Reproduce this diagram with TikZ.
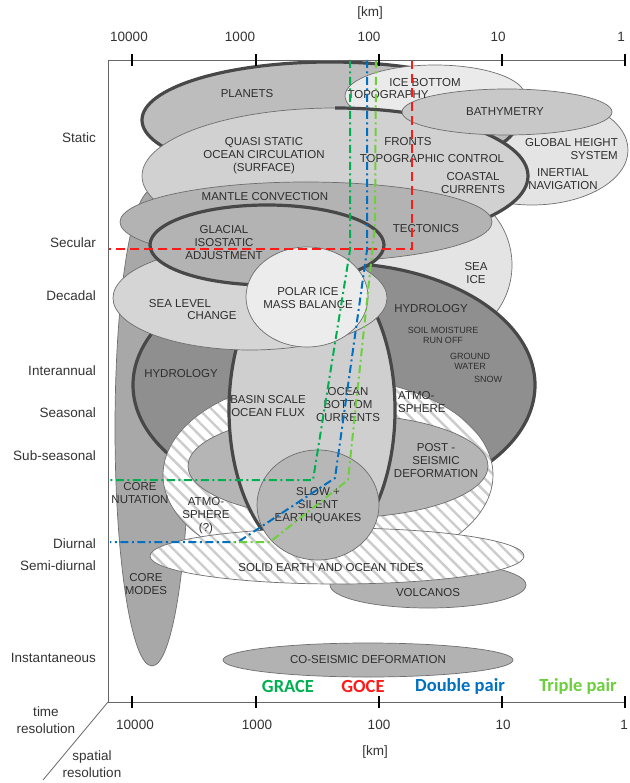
\documentclass[tikz,border=0pt]{standalone}
\usepackage{fontspec}
\setmainfont{Liberation Sans}
\newfontfamily\legendfont{Carlito}
\usepackage{tikz}
\usetikzlibrary{patterns.meta}

\definecolor{rimgray}{HTML}{484848}
\definecolor{edgegray}{HTML}{6E6E6E}
\definecolor{coregray}{HTML}{A8A8A8}
\definecolor{pale}{HTML}{E4E4E4}
\definecolor{palest}{HTML}{EAEAEA}
\definecolor{planetgray}{HTML}{BDBDBD}
\definecolor{oceangray}{HTML}{D1D1D1}
\definecolor{bathgray}{HTML}{C8C8C8}
\definecolor{mantlegray}{HTML}{B3B3B3}
\definecolor{hydrogray}{HTML}{8F8F8F}
\definecolor{basingray}{HTML}{CFCFCF}
\definecolor{sealevelgray}{HTML}{D5D5D5}
\definecolor{polargray}{HTML}{ECECEC}
\definecolor{postgray}{HTML}{B5B5B5}
\definecolor{quakegray}{HTML}{B7B7B7}
\definecolor{volcgray}{HTML}{B2B2B2}
\definecolor{gracegreen}{HTML}{00B050}
\definecolor{gocered}{HTML}{FF1A1A}
\definecolor{doubleblue}{HTML}{0070C0}
\definecolor{triplegreen}{HTML}{6CCF3C}

\tikzset{
  blob/.style={draw=edgegray, line width=0.7pt},
  rim/.style={draw=rimgray, line width=3.2pt},
  hatch/.style={preaction={fill=white},
    pattern={Lines[angle=-45,distance=9pt,line width=2.4pt]}, pattern color=black!20},
  lbl/.style={font=\fontsize{11.5}{13}\selectfont, text=black!82, align=center, inner sep=0pt},
  smalllbl/.style={font=\fontsize{9}{10.5}\selectfont, text=black!82, align=center, inner sep=0pt},
  axislbl/.style={font=\fontsize{13.5}{16.5}\selectfont, text=black!80, inner sep=0pt},
  legend/.style={font=\legendfont\bfseries\fontsize{18.5}{20}\selectfont, inner sep=0pt},
  axline/.style={draw=black!60, line width=0.8pt},
  axtick/.style={draw=black, line width=1.6pt},
  goce/.style={draw=gocered, line width=2pt, dash pattern=on 9pt off 5pt},
  dashdot/.style={line width=2pt, dash pattern=on 8pt off 3.5pt on 2pt off 3.5pt},
}

\begin{document}
\begin{tikzpicture}[x=1pt,y=-1pt]
  \useasboundingbox (0,0) rectangle (629,783);

  % signals, back to front
  \draw[blob, fill=coregray] (152,428) ellipse [x radius=37, y radius=238];
  \draw[blob, fill=pale] (435,265) ellipse [x radius=77, y radius=78];
  \draw[blob, fill=pale] (532,150) ellipse [x radius=96, y radius=55];
  \draw[rim, fill=planetgray] (330,120) ellipse [x radius=188, y radius=58];
  \draw[blob, fill=palest] (435,96) ellipse [x radius=90, y radius=31];
  \draw[blob, fill=oceangray] (335,176) ellipse [x radius=193, y radius=68];
  \begin{scope}
    \clip (335,0) rectangle (629,400);
    \draw[rim] (335,176) ellipse [x radius=193, y radius=68];
  \end{scope}
  \draw[blob, fill=bathgray] (507,112) ellipse [x radius=105, y radius=23];
  \draw[rim, fill=hydrogray] (334,385) ellipse [x radius=201, y radius=122];
  \draw[blob, hatch] (328,475) ellipse [x radius=165, y radius=97];
  \draw[blob, fill=postgray] (338,466) ellipse [x radius=150, y radius=52];
  \draw[rim, fill=basingray] (312,410) ellipse [x radius=83, y radius=150];
  \draw[blob, fill=mantlegray] (306,222) ellipse [x radius=186, y radius=40];
  \draw[blob, fill=sealevelgray] (250,298) ellipse [x radius=137, y radius=52];
  \draw[rim, fill=mantlegray] (267,245) ellipse [x radius=117, y radius=40];
  \draw[blob, fill=polargray] (307,297) ellipse [x radius=61, y radius=50];
  \draw[blob, fill=volcgray] (428,585) ellipse [x radius=98, y radius=23];
  \draw[blob, hatch] (337,556) ellipse [x radius=187, y radius=28];
  \draw[blob, fill=quakegray] (318,505) ellipse [x radius=61, y radius=55];
  \draw[blob, fill=volcgray] (368,660) ellipse [x radius=145, y radius=17];

  % labels of the signals
  \node[lbl] (planets) at (247,94) {PLANETS};
  \node[lbl] (icebottom) at (425,83) {ICE BOTTOM};
  \node[lbl] (icetopo) at (388,95) {TOPOGRAPHY};
  \node[lbl] (bathy) at (505,112) {BATHYMETRY};
  \node[lbl] (quasi) at (264,156) {QUASI STATIC\\OCEAN CIRCULATION\\(SURFACE)};
  \node[lbl] (fronts) at (408,142) {FRONTS};
  \node[lbl] (topoctrl) at (432,159) {TOPOGRAPHIC CONTROL};
  \node[lbl] (coastal) at (473,183) {COASTAL\\CURRENTS};
  \node[lbl, align=right, anchor=east] (globheight) at (618,149.5) {GLOBAL HEIGHT\\SYSTEM};
  \node[lbl] (inertial) at (563,179.5) {INERTIAL\\NAVIGATION};
  \node[lbl] (mantle) at (265,197) {MANTLE CONVECTION};
  \node[lbl] (tectonics) at (426,229) {TECTONICS};
  \node[lbl] (glacial) at (224,243) {GLACIAL\\ISOSTATIC\\ADJUSTMENT};
  \node[lbl] (seaice) at (476,273.5) {SEA\\ICE};
  \node[lbl] (sealevel) at (180,304) {SEA LEVEL};
  \node[lbl] (slchange) at (212,316) {CHANGE};
  \node[lbl] (polar) at (308,298) {POLAR ICE\\MASS BALANCE};
  \node[lbl] (hydroright) at (431,309) {HYDROLOGY};
  \node[smalllbl] (soil) at (443,335.5) {SOIL MOISTURE\\RUN OFF};
  \node[smalllbl] (ground) at (470,361.5) {GROUND\\WATER};
  \node[smalllbl] (snow) at (488,379) {SNOW};
  \node[lbl] (hydroleft) at (181,374) {HYDROLOGY};
  \node[lbl] (basin) at (268,406) {BASIN SCALE\\OCEAN FLUX};
  \node[lbl] (bottomcur) at (348,405) {OCEAN\\BOTTOM\\CURRENTS};
  \node[lbl, align=left, anchor=west] (atmoright) at (398,402) {ATMO-\\SPHERE};
  \node[lbl] (postseis) at (436,461) {POST -\\SEISMIC\\DEFORMATION};
  \node[lbl] (nutation) at (140,493.5) {CORE\\NUTATION};
  \node[lbl] (atmoleft) at (206,515.5) {ATMO-\\SPHERE\\(?)};
  \node[lbl] (quakes) at (318,506) {SLOW +\\SILENT\\EARTHQUAKES};
  \node[lbl] (tides) at (331,568) {SOLID EARTH AND OCEAN TIDES};
  \node[lbl] (coremodes) at (146,584) {CORE\\MODES};
  \node[lbl] (volcanos) at (428,593) {VOLCANOS};
  \node[lbl] (coseis) at (368,660) {CO-SEISMIC DEFORMATION};

  % mission limits
  \coordinate (goceTop) at (412,60);
  \coordinate (goceKnee) at (412,249);
  \coordinate (goceEnd) at (108,249);
  \draw[goce] (goceTop) -- (goceKnee) -- (goceEnd);
  \coordinate (graceTop) at (350,60);
  \coordinate (graceKnee) at (350,250);
  \coordinate (graceLow) at (313,480);
  \coordinate (graceEnd) at (110,480);
  \draw[dashdot, draw=gracegreen] (graceTop) -- (graceKnee) -- (graceLow) -- (graceEnd);
  \coordinate (dblTop) at (367,60);
  \coordinate (dblKnee) at (367,250);
  \coordinate (dblLow) at (335,478);
  \coordinate (dblBend) at (238,542);
  \coordinate (dblEnd) at (110,542);
  \draw[dashdot, draw=doubleblue] (dblTop) -- (dblKnee) -- (dblLow) -- (dblBend) -- (dblEnd);
  \coordinate (triTop) at (376,60);
  \coordinate (triKnee) at (375,225);
  \coordinate (triLow) at (348,480);
  \coordinate (triBend) at (270,542);
  \coordinate (triEnd) at (230,542);
  \draw[dashdot, draw=triplegreen] (triTop) -- (triKnee) -- (triLow) -- (triBend) -- (triEnd);

  % axes
  \draw[axline] (108,702) -- (108,60) -- (625,60);
  \draw[axline] (108,702) -- (625,702);
  \draw[axline] (108,702) -- (43,780);
  \foreach \x in {132,256,379,502,625} {
    \draw[axtick] (\x,54) -- (\x,66);
    \draw[axtick] (\x,696) -- (\x,708);
  }
  \foreach \x/\v in {129/10000,240/1000,369/100,498/10,621/1}
    \node[axislbl] (top\v) at (\x,37) {\v};
  \foreach \x/\v in {135/10000,257/1000,379/100,503/10,624/1}
    \node[axislbl] (bot\v) at (\x,725) {\v};
  \node[axislbl] (kmtop) at (370,13) {[km]};
  \node[axislbl] (kmbot) at (375,752) {[km]};
  \node[axislbl, align=center] (timeres) at (46,720) {time\\resolution};
  \node[axislbl, align=center] (spatres) at (92,764) {spatial\\resolution};

  % time scales
  \foreach \y/\t in {138/Static,243/Secular,296/Decadal,371/Interannual,413/Seasonal,
                     456/Sub-seasonal,544/Diurnal,566/Semi-diurnal,658/Instantaneous}
    \node[axislbl, anchor=east] (t\t) at (96,\y) {\t};

  % missions
  \node[legend, text=gracegreen] (grace) at (288,686) {GRACE};
  \node[legend, text=gocered] (goce) at (363,686) {GOCE};
  \node[legend, text=doubleblue] (double) at (460,686) {Double pair};
  \node[legend, text=triplegreen] (triple) at (578,686) {Triple pair};
\end{tikzpicture}
\end{document}
